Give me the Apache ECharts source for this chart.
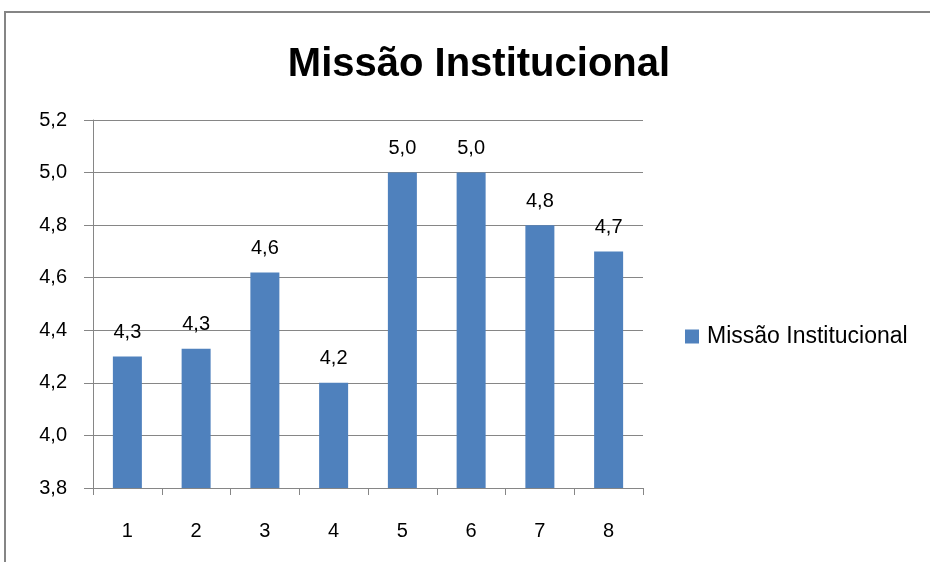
<!DOCTYPE html>
<html>
<head>
<meta charset="utf-8">
<title>Missão Institucional</title>
<script src="https://cdn.jsdelivr.net/npm/echarts@6/dist/echarts.min.js"></script>
<style>
  html, body { margin: 0; padding: 0; background: #fff; }
  #chart { width: 930px; height: 562px; }
</style>
</head>
<body>
<div id="chart"></div>
<script>
// dados
const categories = ['1', '2', '3', '4', '5', '6', '7', '8']
const seriesName = 'Missão Institucional'
const values = [4.30, 4.33, 4.62, 4.20, 5.00, 5.00, 4.80, 4.70]
const yMin = 3.8
const yMax = 5.2
const yStep = 0.2

const fontFamily = '"Liberation Sans", Arial, sans-serif'
const gridColor = '#868686'
const fmt = v => v.toFixed(1).replace('.', ',')

const chart = echarts.init(document.getElementById('chart'))
chart.setOption({
  animation: false,
  textStyle: { fontFamily },
  graphic: [{
    type: 'rect',
    shape: { x: 5, y: 12, width: 1000, height: 700 },
    style: { fill: 'none', stroke: '#858585', lineWidth: 2 },
    silent: true
  }],
  title: {
    text: 'Missão Institucional',
    left: 474,
    top: 40,
    textAlign: 'center',
    textStyle: { fontFamily, fontSize: 40, fontWeight: 'bold', color: '#000' }
  },
  legend: {
    left: 685,
    top: 325,
    padding: 0,
    itemWidth: 14,
    itemHeight: 14,
    icon: 'rect',
    data: [seriesName],
    textStyle: { fontFamily, fontSize: 23, color: '#000', padding: [0, 0, 0, 3] }
  },
  grid: {
    left: 93,
    right: 287,
    top: 120,
    bottom: 74,
    containLabel: false
  },
  xAxis: {
    type: 'category',
    data: categories,
    axisLine: { lineStyle: { color: gridColor, width: 1 } },
    axisTick: { show: true, length: 7, lineStyle: { color: gridColor } },
    axisLabel: { margin: 33, fontSize: 20, color: '#000', fontFamily }
  },
  yAxis: {
    type: 'value',
    min: yMin,
    max: yMax,
    interval: yStep,
    axisLine: { show: true, lineStyle: { color: gridColor, width: 1 } },
    axisTick: { show: true, length: 9, lineStyle: { color: gridColor } },
    splitLine: { lineStyle: { color: gridColor, width: 1 } },
    axisLabel: { margin: 26, fontSize: 20, color: '#000', fontFamily, formatter: fmt }
  },
  series: [{
    name: seriesName,
    type: 'bar',
    data: values,
    barWidth: 29,
    itemStyle: { color: '#4F81BD' },
    label: {
      show: true,
      position: 'top',
      distance: 14,
      fontSize: 20,
      color: '#000',
      fontFamily,
      formatter: p => fmt(p.value)
    }
  }]
})
</script>
</body>
</html>
